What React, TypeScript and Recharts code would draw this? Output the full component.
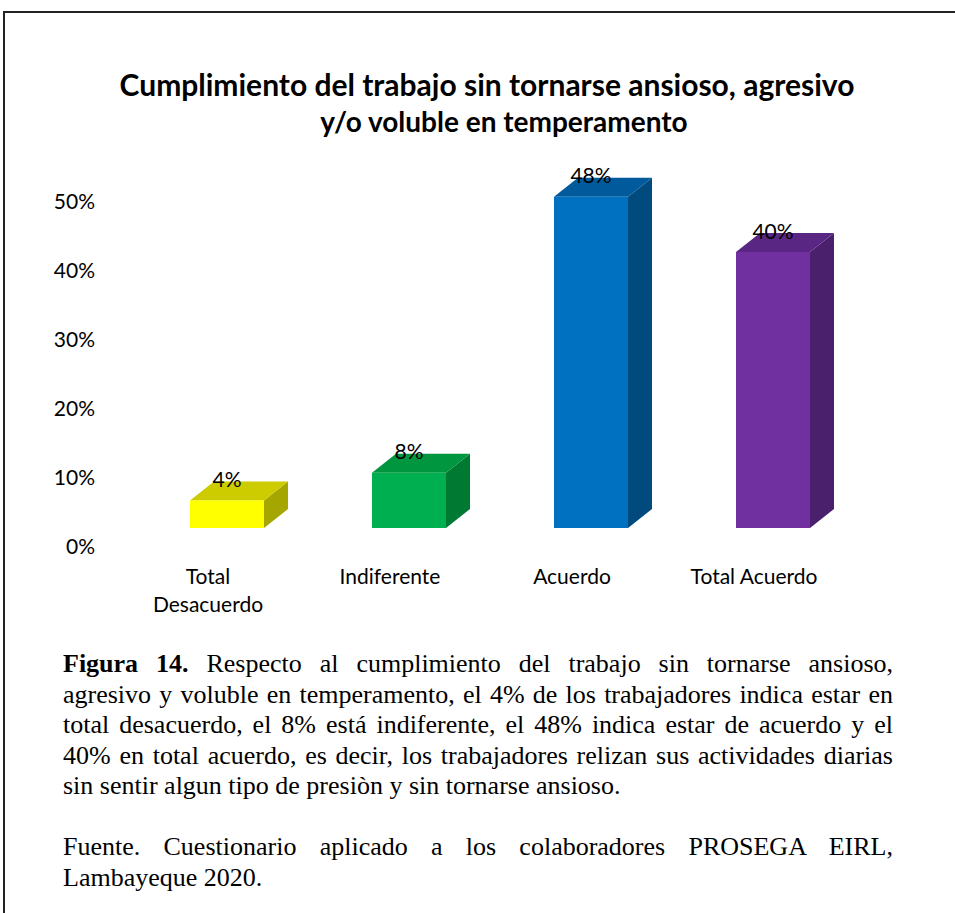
import React from 'react';
import { BarChart, Bar, XAxis, YAxis, LabelList } from 'recharts';

const categories = ['Total Desacuerdo', 'Indiferente', 'Acuerdo', 'Total Acuerdo'];
const values = [4, 8, 48, 40];
const yTicks = [0, 10, 20, 30, 40, 50];

const frontColors = ['#FFFF00', '#00B050', '#0070C0', '#7030A0'];
const topColors = ['#CCCC00', '#00953F', '#005A9C', '#5A2683'];
const sideColors = ['#A6A600', '#007A33', '#004A7E', '#4A1F6B'];

// caption lines as they break in the figure
const captionLines = [
  'Respecto al cumplimiento del trabajo sin tornarse ansioso,',
  'agresivo y voluble en temperamento, el 4% de los trabajadores indica estar en',
  'total desacuerdo, el 8% está indiferente, el 48% indica estar de acuerdo y el',
  '40% en total acuerdo, es decir, los trabajadores relizan sus actividades diarias',
  'sin sentir algun tipo de presiòn y sin tornarse ansioso.',
];
const sourceLines = [
  'Fuente. Cuestionario aplicado a los colaboradores PROSEGA EIRL,',
  'Lambayeque 2020.',
];

const data = categories.map((name, i) => ({ name, value: values[i] }));

const DX = 24;
const DY = 19;
const FONT = 'Lato, "Open Sans", sans-serif';

function Box3D(props: any) {
  const { x, y, width: w, height: h, index } = props;
  const top = `${x},${y} ${x + DX},${y - DY} ${x + w + DX},${y - DY} ${x + w},${y}`;
  const side = `${x + w},${y} ${x + w + DX},${y - DY} ${x + w + DX},${y + h - DY} ${x + w},${y + h}`;
  return (
    <g>
      <polygon points={side} fill={sideColors[index]} />
      <polygon points={top} fill={topColors[index]} />
      <rect x={x} y={y} width={w} height={h} fill={frontColors[index]} />
    </g>
  );
}

function ValueLabel(props: any) {
  const { x, y, width, value } = props;
  return (
    <text x={x + width / 2} y={y - 22} textAnchor="middle" dominantBaseline="central"
      fontFamily={FONT} fontSize={21} fill="#000">
      {`${value}%`}
    </text>
  );
}

function YTick(props: any) {
  const { x, y, payload } = props;
  return (
    <text x={x} y={y + 17} textAnchor="end" dominantBaseline="central"
      fontFamily={FONT} fontSize={21} fill="#000">
      {`${payload.value}%`}
    </text>
  );
}

function XTick(props: any) {
  const { x, y, payload } = props;
  const label: string = payload.value;
  // long labels wrap at the first space, like the original
  const cut = label.indexOf(' ');
  const lines = label.length > 14 && cut > 0 ? [label.slice(0, cut), label.slice(cut + 1)] : [label];
  return (
    <text x={x - 19} y={y + 47} textAnchor="middle" dominantBaseline="central"
      fontFamily={FONT} fontSize={21} fill="#000">
      {lines.map((l, i) => (
        <tspan key={i} x={x - 19} dy={i === 0 ? 0 : 28}>{l}</tspan>
      ))}
    </text>
  );
}

const lineStyle = (last: boolean): React.CSSProperties => ({
  textAlign: 'justify',
  textAlignLast: last ? 'left' : 'justify',
  whiteSpace: 'nowrap',
});

export default function App() {
  return (
    <div style={{ position: 'absolute', left: 0, top: 0, width: 955, height: 913, overflow: 'hidden', background: '#fff' }}>
      <div style={{ position: 'absolute', left: 3, top: 11, width: 1000, height: 1000,
        borderTop: '2px solid #222', borderLeft: '2px solid #222' }} />
      <div style={{ position: 'absolute', left: 0, top: 0 }}>
        <BarChart width={955} height={640} data={data}
          margin={{ top: 183, right: 91, bottom: 52, left: 76 }}>
          <XAxis dataKey="name" axisLine={false} tickLine={false} tickSize={0} tickMargin={0}
            height={60} interval={0} tick={<XTick />} />
          <YAxis domain={[0, 50]} ticks={yTicks} axisLine={false} tickLine={false}
            tickSize={0} tickMargin={41} width={60} tick={<YTick />} />
          <Bar dataKey="value" barSize={74} shape={<Box3D />} isAnimationActive={false}>
            <LabelList dataKey="value" content={<ValueLabel />} />
          </Bar>
        </BarChart>
      </div>
      <div style={{ position: 'absolute', left: 0, top: 66, width: 974, textAlign: 'center',
        fontFamily: FONT, fontWeight: 700, fontSize: 30, lineHeight: '37px', color: '#000' }}>
        Cumplimiento del trabajo sin tornarse ansioso, agresivo
      </div>
      <div style={{ position: 'absolute', left: 0, top: 103, width: 1008, textAlign: 'center',
        fontFamily: FONT, fontWeight: 700, fontSize: 28, lineHeight: '37px', color: '#000' }}>
        y/o voluble en temperamento
      </div>
      <div style={{ position: 'absolute', left: 63, top: 649, width: 830,
        fontFamily: '"Liberation Serif", "Times New Roman", serif', fontSize: 26,
        lineHeight: '30.5px', color: '#000' }}>
        {captionLines.map((line, i) => (
          <div key={i} style={lineStyle(i === captionLines.length - 1)}>
            {i === 0 ? <><b>Figura 14.</b> {line}</> : line}
          </div>
        ))}
        <div style={{ height: 30.5 }} />
        {sourceLines.map((line, i) => (
          <div key={i} style={lineStyle(i === sourceLines.length - 1)}>{line}</div>
        ))}
      </div>
    </div>
  );
}
